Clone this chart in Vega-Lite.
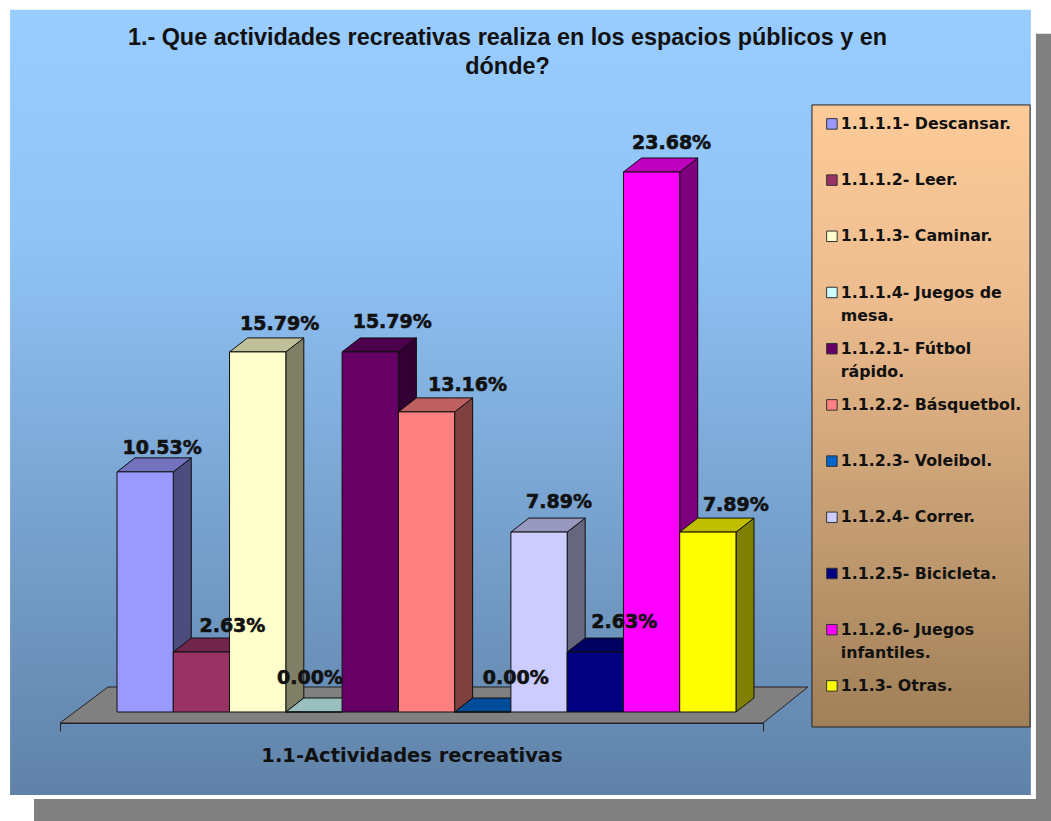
{
"$schema":"https://vega.github.io/schema/vega-lite/v6.json",
"width":1051,"height":821,"padding":0,"autosize":"none","background":"white",
"title":{"text":["1.- Que actividades recreativas realiza en los espacios públicos y en","dónde?"],"font":"Liberation Sans","fontSize":23.4,"fontWeight":"bold","color":"#111111","anchor":"middle","frame":"group","dx":-18,"orient":"top","offset":-80,"baseline":"top","lineHeight":29},
"config":{"view":{"stroke":null}},
"datasets":{"actividades":[
{"actividad":"1.1.1.1- Descansar.","porcentaje":10.53,"etiqueta":"10.53%"},
{"actividad":"1.1.1.2- Leer.","porcentaje":2.63,"etiqueta":"2.63%"},
{"actividad":"1.1.1.3- Caminar.","porcentaje":15.79,"etiqueta":"15.79%"},
{"actividad":"1.1.1.4- Juegos de mesa.","porcentaje":0,"etiqueta":"0.00%"},
{"actividad":"1.1.2.1- Fútbol rápido.","porcentaje":15.79,"etiqueta":"15.79%"},
{"actividad":"1.1.2.2- Básquetbol.","porcentaje":13.16,"etiqueta":"13.16%"},
{"actividad":"1.1.2.3- Voleibol.","porcentaje":0,"etiqueta":"0.00%"},
{"actividad":"1.1.2.4- Correr.","porcentaje":7.89,"etiqueta":"7.89%"},
{"actividad":"1.1.2.5- Bicicleta.","porcentaje":2.63,"etiqueta":"2.63%"},
{"actividad":"1.1.2.6- Juegos infantiles.","porcentaje":23.68,"etiqueta":"23.68%"},
{"actividad":"1.1.3- Otras.","porcentaje":7.89,"etiqueta":"7.89%"}
],"panel":[{"panel":"fondo"}]},
"layer":[
{"data":{"name":"panel"},"transform":[{"calculate":"-1.475","as":"a"},{"calculate":"16.6","as":"b"},{"calculate":"29.74","as":"c"},{"calculate":"-4.78","as":"d"}],"mark":{"type":"rect","fill":"#808080"},
 "encoding":{"x":{"field":"a","type":"quantitative","title":"1.1-Actividades recreativas","scale":{"domain":[-1.013,11.48],"range":[60,763],"nice":false,"zero":false}},"x2":{"field":"b"},
 "y":{"field":"c","type":"quantitative","axis":null,"scale":{"domain":[0,23.68],"range":[712,172],"nice":false,"zero":false}},"y2":{"field":"d"}}},
{"data":{"name":"panel"},"transform":[{"calculate":"-2.08","as":"a"},{"calculate":"16.33","as":"b"},{"calculate":"31.23","as":"c"},{"calculate":"-3.82","as":"d"}],"mark":{"type":"rect","fill":"#ffffff"},
 "encoding":{"x":{"field":"a","type":"quantitative","title":"1.1-Actividades recreativas"},"x2":{"field":"b"},"y":{"field":"c","type":"quantitative","axis":null},"y2":{"field":"d"}}},
{"data":{"name":"panel"},"transform":[{"calculate":"-1.9","as":"a"},{"calculate":"16.24","as":"b"},{"calculate":"30.79","as":"c"},{"calculate":"-3.64","as":"d"}],"mark":{"type":"rect","fill":{"gradient":"linear","x1":0,"y1":0,"x2":0,"y2":1,"stops":[{"offset":0,"color":"#99ccff"},{"offset":0.3,"color":"#8fc2f5"},{"offset":1,"color":"#6082a8"}]}},
 "encoding":{"x":{"field":"a","type":"quantitative","title":"1.1-Actividades recreativas"},"x2":{"field":"b"},"y":{"field":"c","type":"quantitative","axis":null},"y2":{"field":"d"}}},
{"data":{"name":"panel"},"transform":[{"calculate":"12.35","as":"a"},{"calculate":"16.226","as":"b"},{"calculate":"26.62","as":"c"},{"calculate":"-0.658","as":"d"}],"mark":{"type":"rect","stroke":"#222222","strokeWidth":1,"fill":{"gradient":"linear","x1":0,"y1":0,"x2":0,"y2":1,"stops":[{"offset":0,"color":"#fdcb98"},{"offset":0.3,"color":"#eebd8f"},{"offset":1,"color":"#a08058"}]}},
 "encoding":{"x":{"field":"a","type":"quantitative","title":"1.1-Actividades recreativas"},"x2":{"field":"b"},"y":{"field":"c","type":"quantitative","axis":null},"y2":{"field":"d"}}},
{"data":{"name":"panel"},
 "transform":[{"calculate":"[-1.013,-0.16,11.48,12.28]","as":"fx"},{"calculate":"[-0.482,-0.482,-0.482,1.096]","as":"f0"},{"calculate":"[-0.482,1.096,1.096,1.096]","as":"f1"},{"flatten":["fx","f0","f1"]}],
 "mark":{"type":"area","fill":"#808080","stroke":"#222222","strokeWidth":1,"line":false},
 "encoding":{"x":{"field":"fx","type":"quantitative","title":"1.1-Actividades recreativas"},"y":{"field":"f0","type":"quantitative","axis":null,"stack":null},"y2":{"field":"f1"}}},
{"data":{"name":"actividades"},"transform":[{"window":[{"op":"row_number","as":"n"}]},{"calculate":"datum.n-1","as":"i"},{"calculate":"[datum.i+1,datum.i+1.32]","as":"px"},{"calculate":"[0,0.614]","as":"y0"},{"calculate":"[datum.porcentaje,datum.porcentaje+0.614]","as":"y1"},{"flatten":["px","y0","y1"]}],
 "mark":{"type":"area","stroke":"#111111","strokeWidth":1,"line":false},
 "encoding":{"x":{"field":"px","type":"quantitative","title":"1.1-Actividades recreativas"},"y":{"field":"y0","type":"quantitative","axis":null,"stack":null},"y2":{"field":"y1"},
 "color":{"field":"actividad","type":"nominal","sort":null}}},
{"data":{"name":"actividades"},"transform":[{"window":[{"op":"row_number","as":"n"}]},{"calculate":"datum.n-1","as":"i"},{"calculate":"[datum.i+1,datum.i+1.32]","as":"px"},{"calculate":"[0,0.614]","as":"y0"},{"calculate":"[datum.porcentaje,datum.porcentaje+0.614]","as":"y1"},{"flatten":["px","y0","y1"]}],
 "mark":{"type":"area","fill":"#000000","fillOpacity":0.5,"line":false},
 "encoding":{"x":{"field":"px","type":"quantitative","title":"1.1-Actividades recreativas"},"y":{"field":"y0","type":"quantitative","axis":null,"stack":null},"y2":{"field":"y1"},"detail":{"field":"actividad"}}},
{"data":{"name":"actividades"},"transform":[{"window":[{"op":"row_number","as":"n"}]},{"calculate":"datum.n-1","as":"i"},{"calculate":"[datum.i,datum.i+0.32,datum.i+1,datum.i+1.32]","as":"px"},{"calculate":"[datum.porcentaje,datum.porcentaje,datum.porcentaje,datum.porcentaje+0.614]","as":"y0"},{"calculate":"[datum.porcentaje,datum.porcentaje+0.614,datum.porcentaje+0.614,datum.porcentaje+0.614]","as":"y1"},{"flatten":["px","y0","y1"]}],
 "mark":{"type":"area","stroke":"#111111","strokeWidth":1,"line":false},
 "encoding":{"x":{"field":"px","type":"quantitative","title":"1.1-Actividades recreativas"},"y":{"field":"y0","type":"quantitative","axis":null,"stack":null},"y2":{"field":"y1"},
 "color":{"field":"actividad","type":"nominal","sort":null}}},
{"data":{"name":"actividades"},"transform":[{"window":[{"op":"row_number","as":"n"}]},{"calculate":"datum.n-1","as":"i"},{"calculate":"[datum.i,datum.i+0.32,datum.i+1,datum.i+1.32]","as":"px"},{"calculate":"[datum.porcentaje,datum.porcentaje,datum.porcentaje,datum.porcentaje+0.614]","as":"y0"},{"calculate":"[datum.porcentaje,datum.porcentaje+0.614,datum.porcentaje+0.614,datum.porcentaje+0.614]","as":"y1"},{"flatten":["px","y0","y1"]}],
 "mark":{"type":"area","fill":"#000000","fillOpacity":0.25,"line":false},
 "encoding":{"x":{"field":"px","type":"quantitative","title":"1.1-Actividades recreativas"},"y":{"field":"y0","type":"quantitative","axis":null,"stack":null},"y2":{"field":"y1"},"detail":{"field":"actividad"}}},
{"data":{"name":"actividades"},"transform":[{"window":[{"op":"row_number","as":"n"}]},{"calculate":"datum.n-1","as":"i"},{"calculate":"datum.i+1","as":"i2"},{"calculate":"0","as":"base"}],
 "mark":{"type":"rect","stroke":"#111111","strokeWidth":1},
 "encoding":{"x":{"field":"i","type":"quantitative","title":"1.1-Actividades recreativas","axis":{"orient":"bottom","offset":-98,"values":[-1.013,11.48],"labels":false,"grid":false,"ticks":true,"tickSize":8,"tickColor":"#222222","domainColor":"#222222","zindex":1,"titleFont":"DejaVu Sans","titleFontSize":19.5,"titleFontWeight":"bold","titleColor":"#111111","titlePadding":15}},
 "x2":{"field":"i2"},"y":{"field":"base","type":"quantitative","axis":null},"y2":{"field":"porcentaje"},
 "color":{"field":"actividad","type":"nominal","sort":null,"scale":{"range":["#9999ff","#993366","#ffffcc","#ccffff","#660066","#ff8080","#0066cc","#ccccff","#000080","#ff00ff","#ffff00"]},
 "legend":{"orient":"none","legendX":824,"legendY":116,"zindex":2,"title":null,"padding":0,"symbolType":"square","symbolSize":110,"symbolStrokeColor":"#333333","symbolStrokeWidth":1,"symbolOpacity":1,"gridAlign":"all","rowPadding":16.2,"labelFont":"DejaVu Sans","labelFontSize":15.8,"labelFontWeight":"bold","labelColor":"#111111","labelLimit":220,"labelOffset":1,"labelBaseline":"middle",
 "labelExpr":"datum.label=='1.1.1.4- Juegos de mesa.'?['1.1.1.4- Juegos de','mesa.']:datum.label=='1.1.2.1- Fútbol rápido.'?['1.1.2.1- Fútbol','rápido.']:datum.label=='1.1.2.6- Juegos infantiles.'?['1.1.2.6- Juegos','infantiles.']:datum.label",
 "encoding":{"labels":{"lineHeight":{"value":23}}}}}}},
{"data":{"name":"actividades"},"transform":[{"window":[{"op":"row_number","as":"n"}]},{"calculate":"datum.n-1","as":"i"},{"calculate":"datum.i+0.5+[17,31,22,-4,22,41,33,20,29,20,28][datum.i]/56.27","as":"lx"},{"calculate":"datum.porcentaje+[24,26,28,34,30,27,34,30,30,29,27][datum.i]/22.804","as":"ly"}],
 "mark":{"type":"text","font":"DejaVu Sans","fontSize":19,"fontWeight":"bold","color":"#111111","stroke":"#111111","strokeWidth":0.6,"baseline":"middle","align":"center"},
 "encoding":{"x":{"field":"lx","type":"quantitative","title":"1.1-Actividades recreativas"},"y":{"field":"ly","type":"quantitative","axis":null},"text":{"field":"etiqueta"}}}
]
}
